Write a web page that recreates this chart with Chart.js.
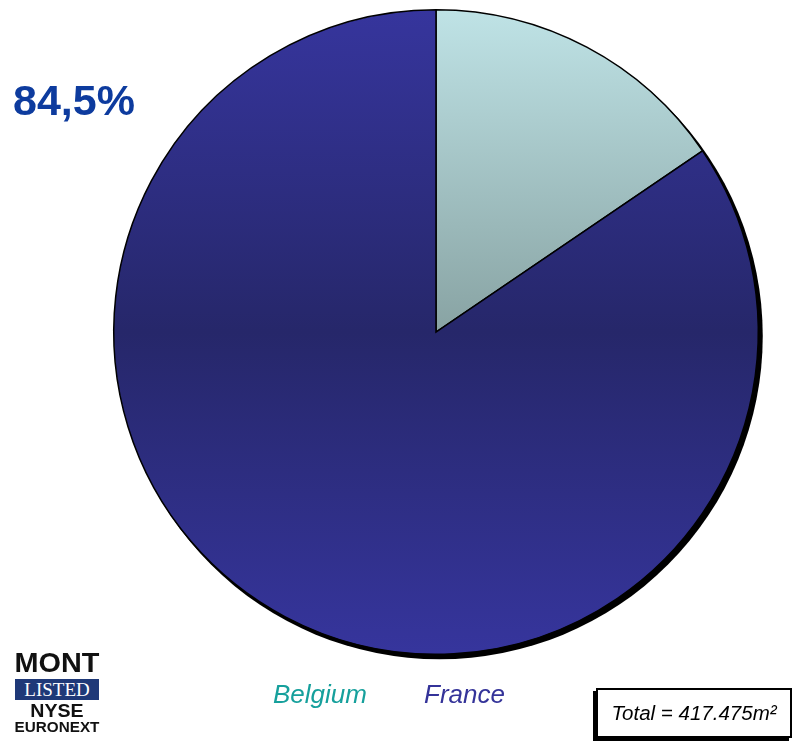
<!DOCTYPE html>
<html>
<head>
<meta charset="utf-8">
<script src="https://cdn.jsdelivr.net/npm/chart.js@4/dist/chart.umd.min.js"></script>
<style>
  html, body { margin: 0; padding: 0; background: #fff; }
  #wrap { position: relative; width: 794px; height: 741px; overflow: hidden; font-family: "Liberation Sans", Arial, sans-serif; }
  #chart { position: absolute; left: 0; top: 0; }
  .total {
    position: absolute; left: 596px; top: 688px; width: 192px; height: 46px;
    border: 2px solid #000; box-shadow: -3px 3px 0 #000; background: #fff;
    font-style: italic; font-size: 20.5px; line-height: 46px; text-align: center; color: #000;
  }
  .logo { position: absolute; left: 14px; top: 649px; width: 86px; text-align: center; font-weight: bold; color: #111; }
  .logo .mont { font-size: 28px; line-height: 27px; transform: scaleX(1.03); transform-origin: center; }
  .logo .listed { margin: 3px 0 2px 1px; width: 84px; height: 21px; background: #1f3978; color: #fff;
    font-family: "Liberation Serif", "DejaVu Serif", serif; font-weight: normal; font-size: 19px; line-height: 21px; }
  .logo .nyse { font-size: 19px; line-height: 18px; transform: scaleX(1.03); }
  .logo .euro { font-size: 14px; line-height: 15px; transform: scaleX(1.09); }
</style>
</head>
<body>
<div id="wrap">
  <canvas id="chart" width="794" height="741"></canvas>
  <div class="logo">
    <div class="mont">MONT</div>
    <div class="listed">LISTED</div>
    <div class="nyse">NYSE</div>
    <div class="euro">EURONEXT</div>
  </div>
  <div class="total">Total = 417.475m²</div>
</div>
<script>
// Share of surface by country (%)
const countries = ["Belgium", "France"];
const shares = [15.5, 84.5];
const legendColors = ["#16a09c", "#343399"];
const highlighted = 1; // France, printed as the big percentage

// Vertical gradients: lighter at the top and bottom of the pie, darker in the middle
function sliceFill(ctx) {
  const chart = ctx.chart;
  const area = chart.chartArea;
  if (!area) return "#333399";
  const g = chart.ctx.createLinearGradient(0, area.top, 0, area.bottom);
  if (ctx.dataIndex === 0) {
    g.addColorStop(0, "#bfe3e6");
    g.addColorStop(0.5, "#88a3a3");
    g.addColorStop(1, "#bfe3e6");
  } else {
    g.addColorStop(0, "#36359d");
    g.addColorStop(0.5, "#26276a");
    g.addColorStop(1, "#36359d");
  }
  return g;
}

// Drop shadow under the pie, offset to the lower right
const pieShadow = {
  id: "pieShadow",
  beforeDatasetsDraw(chart) {
    const arc = chart.getDatasetMeta(0).data[0];
    if (!arc) return;
    const c = chart.ctx;
    c.save();
    c.beginPath();
    c.arc(arc.x + 3.5, arc.y + 4, arc.outerRadius + 1, 0, Math.PI * 2);
    c.fillStyle = "#000";
    c.fill();
    c.restore();
  }
};

// Big percentage label and coloured legend texts
const texts = {
  id: "texts",
  afterDraw(chart) {
    const c = chart.ctx;
    c.save();
    c.fillStyle = "#0d3b9e";
    c.font = "bold 43px 'Liberation Sans', Arial, sans-serif";
    c.textBaseline = "alphabetic";
    c.fillText(shares[highlighted].toFixed(1).replace(".", ",") + "%", 13, 115);
    c.font = "italic 26px 'Liberation Sans', Arial, sans-serif";
    const xs = [273, 424];
    countries.forEach((name, i) => {
      c.fillStyle = legendColors[i];
      c.fillText(name, xs[i], 703);
    });
    c.restore();
  }
};

new Chart(document.getElementById("chart"), {
  type: "pie",
  data: {
    labels: countries,
    datasets: [{
      data: shares,
      backgroundColor: sliceFill,
      borderColor: "#000",
      borderWidth: 1.5,
      borderJoinStyle: "miter"
    }]
  },
  options: {
    responsive: false,
    animation: false,
    events: [],
    layout: { padding: { left: 113, top: 9, right: 35, bottom: 86 } },
    plugins: {
      legend: { display: false },
      tooltip: { enabled: false }
    }
  },
  plugins: [pieShadow, texts]
});
</script>
</body>
</html>
